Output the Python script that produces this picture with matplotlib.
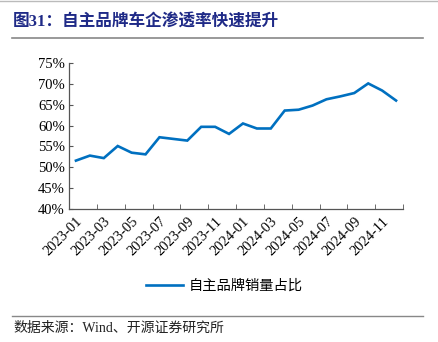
import matplotlib
matplotlib.use("Agg")
import matplotlib.pyplot as plt
from matplotlib.lines import Line2D
from matplotlib.ticker import FuncFormatter

plt.rcParams['font.family'] = ['Liberation Serif', 'Noto Sans CJK SC']

# monthly data, 2023-01 .. 2024-12
months = [f"{y}-{m:02d}" for y in (2023, 2024) for m in range(1, 13)]
share = [51.6, 52.8, 52.2, 55.1, 53.5, 53.1, 57.2, 56.8, 56.4, 59.7, 59.7, 58.0,
         60.5, 59.3, 59.3, 63.6, 63.8, 64.8, 66.3, 67.0, 67.8, 70.1, 68.4, 66.0]
yticks = [40, 45, 50, 55, 60, 65, 70, 75]

title = "图31：自主品牌车企渗透率快速提升"
legend_label = "自主品牌销量占比"
source = "数据来源：Wind、开源证券研究所"

W, H = 439, 342
fig = plt.figure(figsize=(W / 100, H / 100), dpi=100)

ax = fig.add_axes([69 / W, 1 - 209 / H, (403 - 69) / W, (209 - 63) / H])
x = list(range(len(months)))
ax.plot(x, share, color='#0070C0', lw=1.9, solid_joinstyle='miter')

ax.set_xlim(-0.5, len(months) - 0.5)
ax.set_ylim(40, 75)
ax.set_yticks(yticks)
ax.yaxis.set_major_formatter(FuncFormatter(lambda v, p: f"{v:.0f}%"))

# labels every other month, ticks on category boundaries
ax.set_xticks(x[::2])
ax.set_xticklabels(months[::2], rotation=45, ha='right', rotation_mode='anchor')
ax.set_xticks([i - 0.5 for i in range(0, len(months) + 1, 2)], minor=True)
ax.tick_params(axis='x', which='major', length=0, pad=4, labelsize=10.5)
ax.tick_params(axis='x', which='minor', direction='in', length=3.5, color='#555555')
ax.tick_params(axis='y', direction='in', length=3, color='#555555', labelsize=10.5, pad=3)

for s in ('top', 'right'):
    ax.spines[s].set_visible(False)
for s in ('left', 'bottom'):
    ax.spines[s].set_color('#555555')
    ax.spines[s].set_linewidth(0.9)

# legend
fig.legend(handles=[Line2D([], [], color='#0070C0', lw=1.9)], labels=[legend_label],
           loc='center', bbox_to_anchor=(224 / W, 1 - 286 / H), frameon=False,
           handlelength=2.6, handletextpad=0.4, prop={'family': ['Noto Sans CJK SC'], 'size': 10.3})

# header / footer
fig.add_artist(Line2D([0, 1], [1 - 0.5 / H] * 2, color='#BBBBBB', lw=1))
fig.text(13 / W, 1 - 23 / H, title, color='#1F2A87', fontsize=12, fontweight='bold',
         va='center', family=['Liberation Serif', 'Noto Sans CJK SC'])
fig.add_artist(Line2D([12 / W, 423 / W], [1 - 38 / H] * 2, color='#888888', lw=1.2))
fig.add_artist(Line2D([12 / W, 423 / W], [1 - 316 / H] * 2, color='#888888', lw=1.0))
fig.text(13 / W, 1 - 328 / H, source, fontsize=10, va='center', color='#222222',
         family=['Liberation Serif', 'Noto Sans CJK SC'])

fig.savefig('out.png', dpi=100)
